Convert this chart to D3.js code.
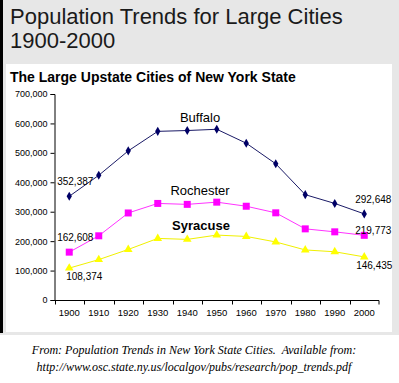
<!DOCTYPE html>
<html><head><meta charset="utf-8">
<script src="https://cdn.jsdelivr.net/npm/d3@7/dist/d3.min.js"></script>
<style>html,body{margin:0;padding:0;background:#fff;}svg{display:block;}</style>
</head><body>
<script>
const years = [1900,1910,1920,1930,1940,1950,1960,1970,1980,1990,2000];
const buffalo = [352387,423715,506775,573076,575901,580132,532759,462768,357870,328123,292648];
const rochester = [162608,218149,295750,328132,324975,332488,318611,296233,241741,231636,219773];
const syracuse = [108374,137249,171717,209326,205967,220583,216038,197208,170105,163860,146435];
const yTicks = [0,100000,200000,300000,400000,500000,600000,700000];
const seriesNames = ["Buffalo","Rochester","Syracuse"];

const W=399,H=383;
const svg=d3.select("body").append("svg").attr("width",W).attr("height",H);
svg.append("rect").attr("x",0).attr("y",0).attr("width",W).attr("height",335).attr("fill","#e7e7e7");
svg.append("rect").attr("x",0).attr("y",0).attr("width",3).attr("height",333).attr("fill","#000");
svg.append("rect").attr("x",6).attr("y",64).attr("width",386).attr("height",268).attr("fill","#fff");

svg.append("text").attr("x",10).attr("y",24).attr("font-family","Liberation Sans, Arial, sans-serif").attr("font-size",22).attr("fill","#1a1a1a").text("Population Trends for Large Cities");
svg.append("text").attr("x",10).attr("y",48).attr("font-family","Liberation Sans, Arial, sans-serif").attr("font-size",22).attr("fill","#1a1a1a").text("1900-2000");
svg.append("text").attr("x",10).attr("y",82).attr("font-family","Liberation Sans, Arial, sans-serif").attr("font-size",14).attr("font-weight","bold").attr("fill","#000").text("The Large Upstate Cities of New York State");

const x=d3.scalePoint().domain(years).range([54.5,379]).padding(0.5);
const y=d3.scaleLinear().domain([0,700000]).range([300,94]);
const font="Liberation Sans, Arial, sans-serif";

// y axis
const ya=svg.append("g").attr("transform","translate(54.5,0)")
  .call(d3.axisLeft(y).tickValues(yTicks).tickSize(4).tickPadding(3).tickFormat(d3.format(",")));
ya.select(".domain").attr("stroke","#000");
ya.selectAll(".tick line").attr("stroke","#000");
ya.selectAll("text").attr("font-family",font).attr("font-size",9).attr("fill","#000");

// x axis with ticks at boundaries
const step=x.step();
const xa=svg.append("g").attr("transform","translate(0,300.5)");
xa.append("line").attr("x1",54.5).attr("x2",379).attr("stroke","#000");
years.forEach((yr,i)=>{
  const bx=Math.round(x(yr)-step/2)+0.5;
  xa.append("line").attr("x1",bx).attr("x2",bx).attr("y1",0).attr("y2",4).attr("stroke","#000");
});
xa.append("line").attr("x1",379).attr("x2",379).attr("y1",0).attr("y2",4).attr("stroke","#000");
xa.selectAll("text.xl").data(years).enter().append("text").attr("class","xl")
  .attr("x",d=>x(d)).attr("y",15).attr("text-anchor","middle")
  .attr("font-family",font).attr("font-size",9.5).attr("fill","#000").text(d=>d);

const line=d3.line().x((d,i)=>x(years[i])).y(d=>y(d));
function drawSeries(vals,color,lineColor,sym,size){
  svg.append("path").datum(vals).attr("d",line).attr("fill","none").attr("stroke",lineColor).attr("stroke-width",1);
  svg.selectAll(null).data(vals).enter().append("path")
    .attr("transform",(d,i)=>`translate(${x(years[i])},${y(d)})`)
    .attr("d",d3.symbol().type(sym).size(size)).attr("fill",color);
}
drawSeries(buffalo,"#000066","#1a1a66",d3.symbolDiamond,24);
drawSeries(rochester,"#ff00ff","#ff33ff",d3.symbolSquare,49);
drawSeries(syracuse,"#ffff00","#f0f000",d3.symbolTriangle,32);

const fmt=d3.format(",");
function vlabel(val,xp,yp,anchor){
  svg.append("text").attr("x",xp).attr("y",yp).attr("text-anchor",anchor)
    .attr("font-family",font).attr("font-size",10).attr("fill","#000").text(fmt(val));
}
vlabel(buffalo[0],x(1900)+6,y(buffalo[0])-11,"middle");
vlabel(rochester[0],x(1900)+6,y(rochester[0])-11,"middle");
vlabel(syracuse[0],x(1900)+15,y(syracuse[0])+12,"middle");
vlabel(buffalo[10],x(2000)+9,y(buffalo[10])-11,"middle");
vlabel(rochester[10],x(2000)+9,y(rochester[10])-1,"middle");
vlabel(syracuse[10],x(2000)+10,y(syracuse[10])+12,"middle");

svg.append("text").attr("x",200).attr("y",122).attr("text-anchor","middle").attr("font-family",font).attr("font-size",13).attr("fill","#000").text(seriesNames[0]);
svg.append("text").attr("x",200).attr("y",195).attr("text-anchor","middle").attr("font-family",font).attr("font-size",13).attr("fill","#000").text(seriesNames[1]);
svg.append("text").attr("x",201).attr("y",230).attr("text-anchor","middle").attr("font-family",font).attr("font-size",13).attr("font-weight","bold").attr("fill","#000").text(seriesNames[2]);

const cf="Liberation Serif, Times New Roman, serif";
svg.append("text").attr("x",194).attr("y",354).attr("text-anchor","middle").attr("font-family",cf).attr("font-style","italic").attr("font-size",12).attr("fill","#000").attr("xml:space","preserve").style("white-space","pre").text("From: Population Trends in New York State Cities.  Available from:");
svg.append("text").attr("x",194).attr("y",371).attr("text-anchor","middle").attr("font-family",cf).attr("font-style","italic").attr("font-size",12).attr("fill","#000").text("http://www.osc.state.ny.us/localgov/pubs/research/pop_trends.pdf");
</script>
</body></html>
